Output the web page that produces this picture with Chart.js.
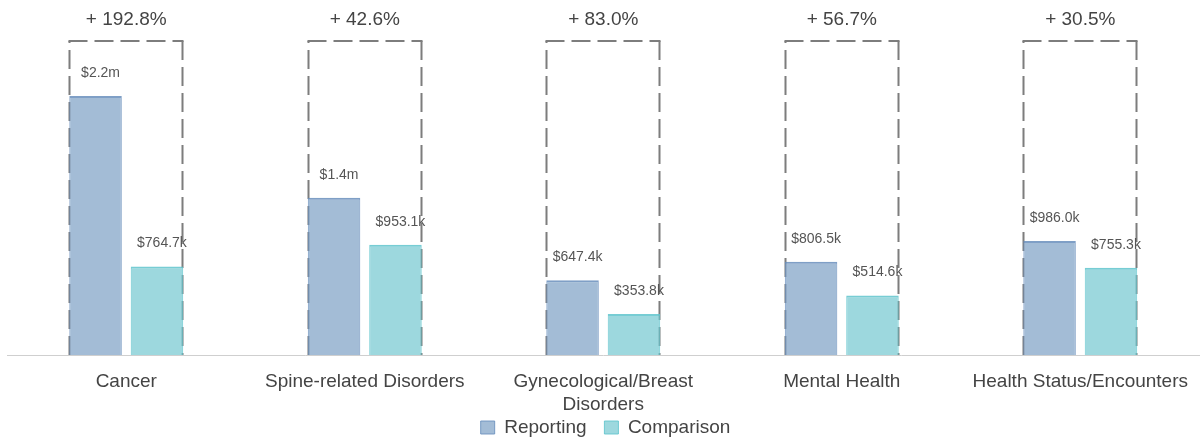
<!DOCTYPE html>
<html>
<head>
<meta charset="utf-8">
<script src="https://cdn.jsdelivr.net/npm/chart.js@4/dist/chart.umd.min.js"></script>
<style>
  html, body { margin: 0; padding: 0; background: #fff; }
  #wrap { width: 1204px; height: 443px; position: relative; }
</style>
</head>
<body>
<div id="wrap"><canvas id="c"></canvas></div>
<script>
// Spend by condition group, reporting period vs comparison period
const categories = ["Cancer", "Spine-related Disorders", ["Gynecological/Breast", "Disorders"], "Mental Health", "Health Status/Encounters"];
const reporting  = [2239000, 1359000, 647400, 806500, 986000];
const comparison = [764700, 953100, 353800, 514600, 755300];
const seriesNames = ["Reporting", "Comparison"];

const FONT = "'Liberation Sans', Arial, Helvetica, sans-serif";

function money(v) {
  return v >= 1000000 ? "$" + (v / 1000000).toFixed(1) + "m" : "$" + (v / 1000).toFixed(1) + "k";
}
function change(r, c) {
  return "+ " + ((r / c - 1) * 100).toFixed(1) + "%";
}

function dashedSegment(ctx, x1, y1, x2, y2) {
  ctx.beginPath();
  ctx.moveTo(x1, y1);
  ctx.lineTo(x2, y2);
  ctx.stroke();
}

// Dashed frame around each pair, change label above it, value labels above bars
const groupAnnotations = {
  id: "groupAnnotations",
  beforeDatasetsDraw(chart) {
    const ctx = chart.ctx, area = chart.chartArea;
    const m0 = chart.getDatasetMeta(0), m1 = chart.getDatasetMeta(1);
    ctx.save();
    ctx.setLineDash([19, 7]);
    ctx.strokeStyle = "#7d7d7d";
    ctx.lineWidth = 2;
    m0.data.forEach((b0, i) => {
      const b1 = m1.data[i];
      const left = Math.round(b0.x - b0.width / 2) + 0.5;
      const right = Math.round(b1.x + b1.width / 2) - 0.5;
      const top = Math.round(area.top);
      dashedSegment(ctx, left - 1, top, right + 1, top);
      dashedSegment(ctx, right, top, right, area.bottom);
      dashedSegment(ctx, left, area.bottom, left, top);
    });
    ctx.restore();
  },
  afterDatasetsDraw(chart) {
    const ctx = chart.ctx, area = chart.chartArea;
    const m0 = chart.getDatasetMeta(0), m1 = chart.getDatasetMeta(1);
    ctx.save();
    ctx.textAlign = "center";
    ctx.textBaseline = "middle";
    m0.data.forEach((b0, i) => {
      const b1 = m1.data[i];
      const left = b0.x - b0.width / 2, right = b1.x + b1.width / 2;
      ctx.fillStyle = "#444";
      ctx.font = "19px " + FONT;
      ctx.fillText(change(reporting[i], comparison[i]), (left + right) / 2, area.top - 21);
      ctx.fillStyle = "#555";
      ctx.font = "14px " + FONT;
      ctx.fillText(money(reporting[i]), b0.x + 5, b0.y - 23);
      ctx.fillText(money(comparison[i]), b1.x + 5, b1.y - 23);
    });
    ctx.restore();
  }
};

new Chart(document.getElementById("c"), {
  type: "bar",
  data: {
    labels: categories,
    datasets: [
      {
        label: seriesNames[0],
        data: reporting,
        backgroundColor: "rgba(132,166,200,0.75)",
        borderColor: "rgba(105,142,188,0.85)",
        borderWidth: { top: 2, left: 1, right: 1, bottom: 0 },
        barPercentage: 0.855,
        categoryPercentage: 0.515
      },
      {
        label: seriesNames[1],
        data: comparison,
        backgroundColor: "rgba(124,203,211,0.75)",
        borderColor: "rgba(95,196,204,0.85)",
        borderWidth: { top: 2, left: 1, right: 1, bottom: 0 },
        barPercentage: 0.855,
        categoryPercentage: 0.515
      }
    ]
  },
  options: {
    responsive: true,
    maintainAspectRatio: false,
    animation: false,
    layout: { padding: { top: 41, left: 7, right: 0, bottom: -4 } },
    plugins: {
      legend: {
        position: "bottom",
        labels: {
          boxWidth: 14,
          boxHeight: 13,
          padding: 2,
          color: "#444",
          font: { size: 19, family: FONT },
          generateLabels(chart) {
            const items = Chart.defaults.plugins.legend.labels.generateLabels(chart);
            // widen the space after each entry but the last
            items.forEach((it, i) => { if (i < items.length - 1) it.text += "   "; });
            return items;
          }
        }
      },
      tooltip: { enabled: false }
    },
    scales: {
      x: {
        grid: { display: false, drawTicks: false },
        border: { display: true, color: "#cfcfcf", width: 1 },
        ticks: {
          color: "#444",
          font: { size: 19, family: FONT, lineHeight: 1.17 },
          padding: 16,
          maxRotation: 0,
          autoSkip: false
        },
        afterFit(scale) { scale.height = 61; }
      },
      y: {
        display: false,
        min: 0,
        max: 2715000
      }
    }
  },
  plugins: [groupAnnotations]
});
</script>
</body>
</html>
